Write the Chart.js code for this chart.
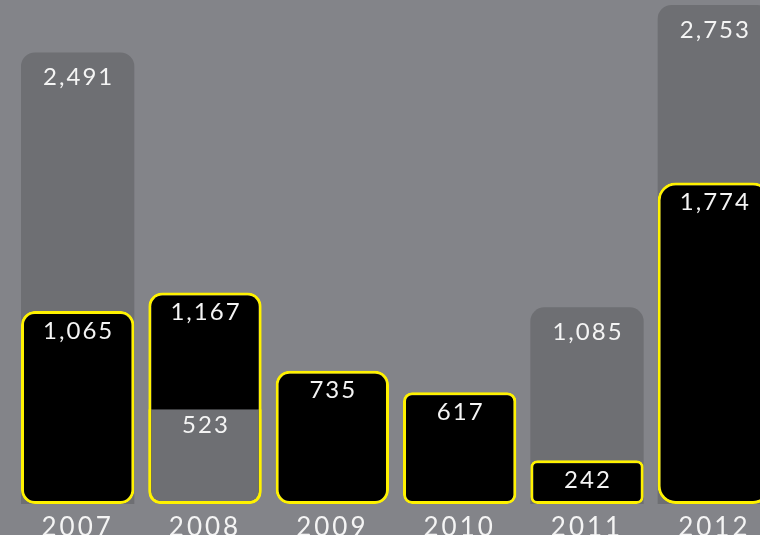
<!DOCTYPE html>
<html>
<head>
<meta charset="utf-8">
<script src="https://cdn.jsdelivr.net/npm/chart.js@4"></script>
<style>
html, body { margin:0; padding:0; background:#838489; overflow:hidden; }
#wrap { position:absolute; left:0; top:0; width:778px; height:535px; }
</style>
</head>
<body>
<div id="wrap"><canvas id="myChart" width="778" height="535"></canvas></div>
<script>
// data
var years  = ['2007', '2008', '2009', '2010', '2011', '2012'];
var totals = [2491, null, null, null, 1085, 2753];   // grey bars behind
var main   = [1065, 1167, 735, 617, 242, 1774];      // black bars, yellow edge
var inner  = [null, 523, null, null, null, null];    // grey part inside 2008
var radii  = [14, 14, 14, 9, 7, 18];

var grey = '#6e6f73';
var yellow = '#fff200';
var font = 'Lato, "Open Sans", sans-serif';

var valueLabels = {
    id: 'valueLabels',
    beforeDraw: function(c){
        c.ctx.letterSpacing = '3px';
    },
    afterDatasetsDraw: function(c){
        var ctx = c.ctx;
        ctx.save();
        ctx.letterSpacing = '2px';
        ctx.font = '24px ' + font;
        ctx.fillStyle = '#f4f4f4';
        ctx.textAlign = 'center';
        ctx.textBaseline = 'middle';
        c.data.datasets.forEach(function(ds, i){
            var meta = c.getDatasetMeta(i);
            meta.data.forEach(function(bar, j){
                var v = ds.data[j];
                if (v == null) return;
                var off = ds.labelOffset || 21;
                ctx.fillText(v.toLocaleString('en-US'), bar.x + 1, bar.y + off);
            });
        });
        ctx.restore();
    }
};

var ctx = document.getElementById('myChart').getContext('2d');
var myChart = new Chart(ctx, {
    type: 'bar',
    data: {
        labels: years,
        datasets: [{
            label: 'inner',
            data: inner,
            order: 1,
            backgroundColor: grey,
            borderColor: yellow,
            borderWidth: 3,
            borderSkipped: 'end',
            borderRadius: 12,
            labelOffset: 16
        }, {
            label: 'main',
            data: main,
            order: 2,
            backgroundColor: '#000000',
            borderColor: yellow,
            borderWidth: 3,
            borderSkipped: false,
            borderRadius: radii,
            labelOffset: 20
        }, {
            label: 'totals',
            data: totals,
            order: 3,
            backgroundColor: grey,
            borderWidth: 0,
            borderRadius: 14,
            labelOffset: 25
        }]
    },
    options: {
        responsive: false,
        animation: false,
        layout: { padding: { left: 14, right: 0, top: 0, bottom: 0 } },
        datasets: {
            bar: { grouped: false, categoryPercentage: 1, barPercentage: 0.89 }
        },
        plugins: { legend: { display: false }, tooltip: { enabled: false } },
        scales: {
            x: {
                grid: { display: false, drawTicks: false },
                border: { display: false },
                ticks: { color: '#f4f4f4', font: { family: font, size: 26 }, padding: 8 },
                afterFit: function(s){ s.height = 31; }
            },
            y: { display: false, min: 0, max: 2780 }
        }
    },
    plugins: [valueLabels]
});
</script>
</body>
</html>
